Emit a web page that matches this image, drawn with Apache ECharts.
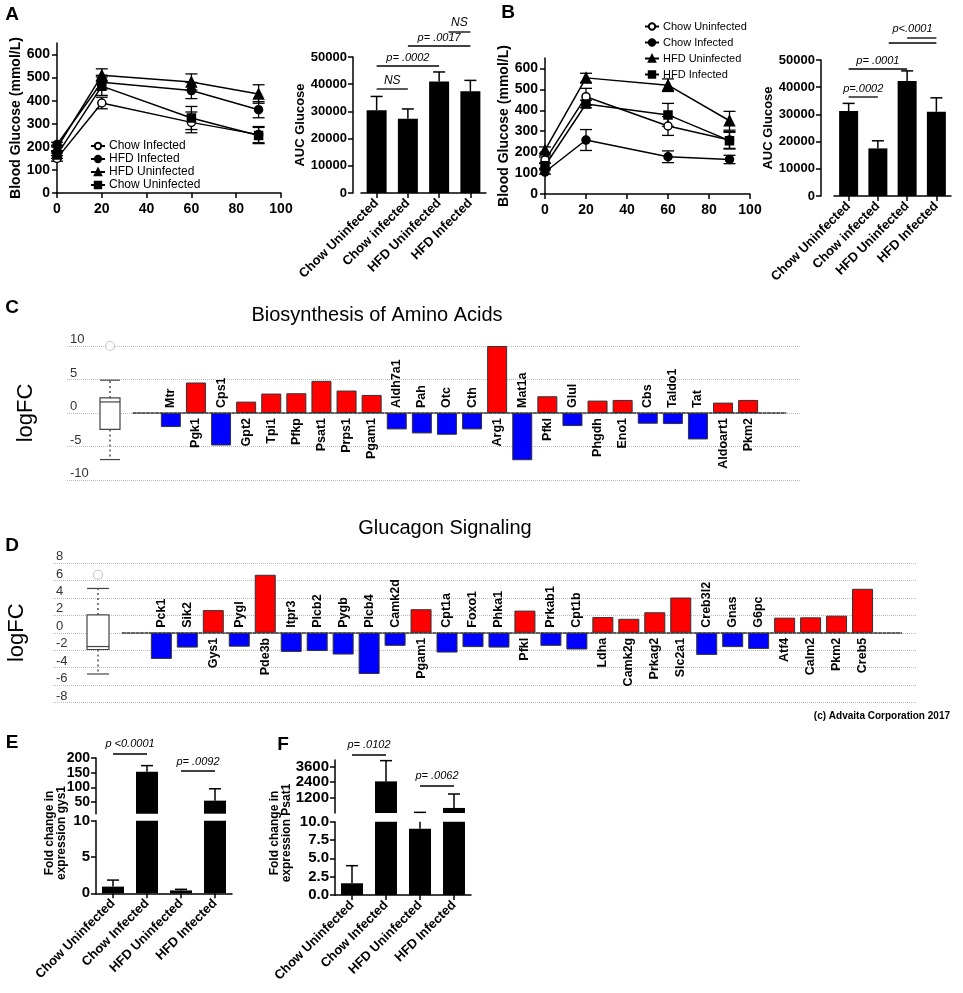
<!DOCTYPE html>
<html>
<head>
<meta charset="utf-8">
<script src="https://cdn.jsdelivr.net/npm/echarts@6/dist/echarts.min.js"></script>
<style>
html,body{margin:0;padding:0;background:#fff;}
#main{width:963px;height:993px;}
</style>
</head>
<body>
<div id="main"></div>
<script>
// ---------- data: panels A / B (glucose tolerance) ----------
const timePoints = [0, 20, 60, 90];
const glucoseTicks = [0, 100, 200, 300, 400, 500, 600];

const aChowInf = [150, 390, 306, 253];
const aChowInfErr = [12, 25, 45, 35];
const aHfdInf = [210, 480, 444, 361];
const aHfdInfErr = [10, 30, 35, 35];
const aHfdUninf = [195, 510, 481, 429];
const aHfdUninfErr = [12, 28, 35, 40];
const aChowUninf = [165, 463, 325, 249];
const aChowUninfErr = [15, 40, 50, 35];

const bChowUninf = [162, 465, 325, 258];
const bChowUninfErr = [15, 40, 45, 40];
const bChowInf = [105, 258, 178, 165];
const bChowInfErr = [10, 50, 28, 20];
const bHfdUninf = [210, 555, 520, 350];
const bHfdUninfErr = [15, 22, 30, 45];
const bHfdInf = [135, 430, 378, 255];
const bHfdInfErr = [12, 18, 55, 40];

const aucGroups = ['Chow Uninfected', 'Chow infected', 'HFD Uninfected', 'HFD Infected'];
const aucA = [30400, 27300, 41000, 37400];
const aucAErr = [5100, 3600, 3500, 4000];
const aucB = [31250, 17500, 42300, 31000];
const aucBErr = [2800, 2800, 3700, 5100];

// ---------- data: panel C ----------
const cGenes = ['Mtr','Pgk1','Cps1','Gpt2','Tpi1','Pfkp','Psat1','Prps1','Pgam1','Aldh7a1','Pah','Otc','Cth',
  'Arg1','Mat1a','Pfkl','Glul','Phgdh','Eno1','Cbs','Taldo1','Tat','Aldoart1','Pkm2'];
const cLogFC = [-2.1, 4.55, -4.85, 1.7, 2.9, 2.95, 4.8, 3.35, 2.7, -2.45, -3.05, -3.25, -2.45,
  10, -7.05, 2.5, -1.95, 1.85, 1.95, -1.6, -1.65, -3.95, 1.55, 1.95];
const cBox = [-6.95, -2.45, 1.65, 2.25, 4.9]; // min, q1, median, q3, max
const cOutlier = 10;

// ---------- data: panel D ----------
const dGenes = ['Pck1','Sik2','Gys1','Pygl','Pde3b','Itpr3','Plcb2','Pygb','Plcb4','Camk2d','Pgam1','Cpt1a','Foxo1',
  'Phka1','Pfkl','Prkab1','Cpt1b','Ldha','Camk2g','Prkag2','Slc2a1','Creb3l2','Gnas','G6pc','Atf4','Calm2','Pkm2','Creb5'];
const dLogFC = [-3.0, -1.7, 2.6, -1.6, 6.65, -2.2, -2.1, -2.5, -4.73, -1.5, 2.7, -2.27, -1.65,
  -1.7, 2.54, -1.5, -1.92, 1.8, 1.6, 2.35, 4.04, -2.54, -1.65, -1.85, 1.73, 1.77, 1.96, 5.04];
const dBox = [-4.73, -1.92, -1.58, 2.04, 5.08];
const dOutlier = 6.65;

// ---------- data: panels E / F ----------
const efGroups = ['Chow Uninfected', 'Chow Infected', 'HFD Uninfected', 'HFD Infected'];
const eFold = [0.92, 153, 0.4, 54.5];
const eErr = [0.9, 21, 0.15, 40.5];
const eUpperTicks = [50, 100, 150, 200];
const fFold = [1.6, 2450, 9.05, 400];
const fErr = [2.4, 1600, 51, 1075];
const fUpperTicks = [1200, 2400, 3600];

// ---------- styling helpers ----------
const FONT = '"Liberation Sans", Arial, Helvetica, sans-serif';
const RED = '#ff0000', BLUE = '#0000ff';
const plain = v => String(v);
const axisLineBlack = {show: true, onZero: false, lineStyle: {color: '#000', width: 1.5}};
const tickBlack = {show: true, length: 5, lineStyle: {color: '#000', width: 1.5}};
function boldLabel(size, extra) {
  return Object.assign({color: '#000', fontWeight: 'bold', fontSize: size, fontFamily: FONT}, extra || {});
}

function lineSeries(name, gi, vals, symbol, fill) {
  return {
    name: name, type: 'line', xAxisIndex: gi, yAxisIndex: gi,
    data: timePoints.map((t, i) => [t, vals[i]]),
    symbol: symbol, symbolSize: symbol === 'triangle' ? 10 : 8,
    lineStyle: {color: '#000', width: 1.5},
    itemStyle: {color: fill, borderColor: '#000', borderWidth: 1.5},
    z: 3, silent: true
  };
}
function lineErrSeries(gi, vals, errs) {
  return {
    type: 'custom', xAxisIndex: gi, yAxisIndex: gi, silent: true, z: 2,
    data: timePoints.map((t, i) => [t, vals[i], errs[i]]),
    encode: {x: 0, y: 1},
    renderItem: function (params, api) {
      const x = api.value(0), m = api.value(1), e = api.value(2);
      const lo = api.coord([x, m - e]), hi = api.coord([x, m + e]);
      const st = {stroke: '#000', lineWidth: 1.3};
      return {type: 'group', children: [
        {type: 'line', shape: {x1: lo[0], y1: lo[1], x2: hi[0], y2: hi[1]}, style: st},
        {type: 'line', shape: {x1: lo[0] - 6, y1: lo[1], x2: lo[0] + 6, y2: lo[1]}, style: st},
        {type: 'line', shape: {x1: hi[0] - 6, y1: hi[1], x2: hi[0] + 6, y2: hi[1]}, style: st}
      ]};
    }
  };
}
// upward error bars on bar charts, clamped to the axis segment [lo, hi]
function barErrSeries(gi, vals, errs, lo, hi) {
  return {
    type: 'custom', xAxisIndex: gi, yAxisIndex: gi, silent: true, z: 3,
    data: vals.map((v, i) => [i, v, errs[i]]),
    encode: {x: 0, y: 1},
    renderItem: function (params, api) {
      const x = api.value(0), m = api.value(1), top = m + api.value(2);
      const kids = [];
      if (top > lo && m < hi) {
        const p0 = api.coord([x, Math.max(m, lo)]), p1 = api.coord([x, Math.min(top, hi)]);
        const st = {stroke: '#000', lineWidth: 1.5};
        kids.push({type: 'line', shape: {x1: p0[0], y1: p0[1], x2: p1[0], y2: p1[1]}, style: st});
        if (top <= hi) kids.push({type: 'line', shape: {x1: p1[0] - 6, y1: p1[1], x2: p1[0] + 6, y2: p1[1]}, style: st});
      }
      return {type: 'group', children: kids};
    }
  };
}
function boxSeries(gi, box, w) {
  return {
    type: 'custom', xAxisIndex: gi, yAxisIndex: gi, silent: true,
    data: [[0].concat(box)],
    encode: {x: 0, y: [1, 2, 3, 4, 5]},
    renderItem: function (params, api) {
      const cx = api.coord([0, api.value(3)])[0];
      const y = k => api.coord([0, api.value(k)])[1];
      const yMin = y(1), yQ1 = y(2), yMed = y(3), yQ3 = y(4), yMax = y(5);
      const solid = {stroke: '#444', lineWidth: 1.2};
      const dot = {stroke: '#444', lineWidth: 1.4, lineDash: [2, 3]};
      return {type: 'group', children: [
        {type: 'line', shape: {x1: cx, y1: yQ3, x2: cx, y2: yMax}, style: dot},
        {type: 'line', shape: {x1: cx, y1: yQ1, x2: cx, y2: yMin}, style: dot},
        {type: 'line', shape: {x1: cx - w / 2, y1: yMax, x2: cx + w / 2, y2: yMax}, style: solid},
        {type: 'line', shape: {x1: cx - w / 2, y1: yMin, x2: cx + w / 2, y2: yMin}, style: solid},
        {type: 'rect', shape: {x: cx - w / 2, y: yQ3, width: w, height: yQ1 - yQ3}, style: {fill: '#fff', stroke: '#444', lineWidth: 1.2}},
        {type: 'line', shape: {x1: cx - w / 2, y1: yMed, x2: cx + w / 2, y2: yMed}, style: solid}
      ]};
    }
  };
}
function geneBars(gi, vals, w) {
  const data = ['-'].concat(vals.map(v => ({
    value: v,
    itemStyle: {color: v > 0 ? RED : BLUE},
    label: v > 0
      ? {position: 'bottom', align: 'right'}
      : {position: 'top', align: 'left'}
  }))).concat(['-']);
  return {
    type: 'bar', xAxisIndex: gi, yAxisIndex: gi, data: data, barWidth: w, silent: true,
    itemStyle: {borderColor: '#333', borderWidth: 1},
    label: {show: true, formatter: '{b}', rotate: 90, distance: 5, verticalAlign: 'middle',
      fontSize: 12.5, fontWeight: 'bold', color: '#000', fontFamily: FONT}
  };
}

// ---------- layout ----------
const grids = [
  {left: 57, top: 43, width: 224, height: 150},      // 0 A line
  {left: 361, top: 57, width: 125, height: 136},     // 1 A AUC
  {left: 545, top: 58, width: 205, height: 136},     // 2 B line
  {left: 834, top: 60, width: 117, height: 136},     // 3 B AUC
  {left: 67, top: 346, width: 733, height: 134},     // 4 C gridlines
  {left: 90, top: 346, width: 40, height: 134},      // 5 C box
  {left: 133.2, top: 346, width: 652.6, height: 134},// 6 C bars
  {left: 53, top: 563, width: 864, height: 139.5},   // 7 D gridlines
  {left: 78, top: 563, width: 40, height: 139.5},    // 8 D box
  {left: 122.4, top: 563, width: 779.1, height: 139.5}, // 9 D bars
  {left: 96, top: 820.7, width: 136, height: 72.6},  // 10 E lower
  {left: 96, top: 758, width: 136, height: 55.7},    // 11 E upper
  {left: 335, top: 821.7, width: 136, height: 73.3}, // 12 F lower
  {left: 335, top: 760, width: 136, height: 53}      // 13 F upper
].map(g => Object.assign({containLabel: false, outerBoundsMode: 'none'}, g));

function timeX(gi) {
  return {gridIndex: gi, type: 'value', min: 0, max: 100, interval: 20, axisLine: axisLineBlack, axisTick: tickBlack,
    axisLabel: boldLabel(14, {margin: 9}), splitLine: {show: false}};
}
function glucoseY(gi, gap) {
  return {gridIndex: gi, type: 'value', min: 0, max: 650, axisLine: axisLineBlack,
    axisTick: Object.assign({customValues: glucoseTicks}, tickBlack),
    axisLabel: boldLabel(14, {customValues: glucoseTicks, margin: 7}), splitLine: {show: false},
    name: 'Blood Glucose (mmol/L)', nameLocation: 'middle', nameGap: gap,
    nameTextStyle: boldLabel(14)};
}
function groupX(gi, cats) {
  return {gridIndex: gi, type: 'category', data: cats, axisLine: axisLineBlack,
    axisTick: Object.assign({alignWithLabel: true}, tickBlack),
    axisLabel: boldLabel(13, {rotate: 45, interval: 0, margin: 8})};
}
function aucY(gi, off, gap) {
  return {gridIndex: gi, type: 'value', min: 0, max: 50000, interval: 10000, offset: off,
    axisLine: axisLineBlack, axisTick: tickBlack, axisLabel: boldLabel(13, {margin: 6, formatter: plain}),
    splitLine: {show: false},
    name: 'AUC Glucose', nameLocation: 'middle', nameGap: gap, nameTextStyle: boldLabel(13)};
}
function logGridY(gi, min, max, step, gap) {
  return {gridIndex: gi, type: 'value', min: min, max: max, interval: step,
    axisLine: {show: false}, axisTick: {show: false},
    axisLabel: {inside: true, align: 'left', verticalAlign: 'bottom', margin: 3, fontSize: 13, color: '#333', fontFamily: FONT},
    splitLine: {show: true, lineStyle: {color: '#bbb', type: 'dotted', width: 1}},
    name: 'logFC', nameLocation: 'middle', nameGap: gap, nameTextStyle: {fontSize: 22, color: '#000', fontFamily: FONT}};
}
function hiddenY(gi, min, max) { return {gridIndex: gi, type: 'value', min: min, max: max, show: false}; }
function geneX(gi, genes) {
  return {gridIndex: gi, type: 'category', data: [' '].concat(genes).concat(['  ']),
    axisLine: {show: true, onZero: true, lineStyle: {color: '#333', width: 1.5, type: [3, 1.5]}},
    axisTick: {show: false}, axisLabel: {show: false}};
}
function segY(gi, min, max, extra) {
  return Object.assign({gridIndex: gi, type: 'value', min: min, max: max, axisLine: axisLineBlack,
    axisTick: tickBlack, axisLabel: boldLabel(15, {margin: 6}), splitLine: {show: false}}, extra);
}
function customTicks(vals, size) {
  return {axisTick: Object.assign({customValues: vals}, tickBlack),
    axisLabel: boldLabel(size, {customValues: vals, margin: 6, formatter: plain, hideOverlap: false,
      lineHeight: size - 1, showMinLabel: true, showMaxLabel: true})};
}

const xAxes = [
  timeX(0), groupX(1, aucGroups), timeX(2), groupX(3, aucGroups),
  {gridIndex: 4, type: 'value', min: 0, max: 1, show: false},
  {gridIndex: 5, type: 'category', data: ['box'], show: false},
  geneX(6, cGenes),
  {gridIndex: 7, type: 'value', min: 0, max: 1, show: false},
  {gridIndex: 8, type: 'category', data: ['box'], show: false},
  geneX(9, dGenes),
  groupX(10, efGroups),
  {gridIndex: 11, type: 'category', data: efGroups, show: false},
  groupX(12, efGroups),
  {gridIndex: 13, type: 'category', data: efGroups, show: false}
];
const yAxes = [
  glucoseY(0, 33), aucY(1, 8, 41), glucoseY(2, 28), aucY(3, 13, 37),
  logGridY(4, -10, 10, 5, 30), hiddenY(5, -10, 10), hiddenY(6, -10, 10),
  logGridY(7, -8, 8, 2, 25), hiddenY(8, -8, 8), hiddenY(9, -8, 8),
  segY(10, 0, 10, {interval: 5}),
  segY(11, 10, 200, customTicks(eUpperTicks, 14)),
  segY(12, 0, 10, {interval: 2.5, axisLabel: boldLabel(15, {margin: 6, formatter: v => v.toFixed(1)})}),
  segY(13, 10, 4100, customTicks(fUpperTicks, 15))
];

const series = [
  // A
  lineErrSeries(0, aChowInf, aChowInfErr), lineErrSeries(0, aHfdInf, aHfdInfErr),
  lineErrSeries(0, aHfdUninf, aHfdUninfErr), lineErrSeries(0, aChowUninf, aChowUninfErr),
  lineSeries('A|Chow Infected', 0, aChowInf, 'circle', '#fff'),
  lineSeries('A|HFD Infected', 0, aHfdInf, 'circle', '#000'),
  lineSeries('A|HFD Uninfected', 0, aHfdUninf, 'triangle', '#000'),
  lineSeries('A|Chow Uninfected', 0, aChowUninf, 'rect', '#000'),
  {type: 'bar', xAxisIndex: 1, yAxisIndex: 1, data: aucA, barWidth: 20, itemStyle: {color: '#000'}, silent: true},
  barErrSeries(1, aucA, aucAErr, 0, 50000),
  // B
  lineErrSeries(2, bChowUninf, bChowUninfErr), lineErrSeries(2, bChowInf, bChowInfErr),
  lineErrSeries(2, bHfdUninf, bHfdUninfErr), lineErrSeries(2, bHfdInf, bHfdInfErr),
  lineSeries('B|Chow Uninfected', 2, bChowUninf, 'circle', '#fff'),
  lineSeries('B|Chow Infected', 2, bChowInf, 'circle', '#000'),
  lineSeries('B|HFD Uninfected', 2, bHfdUninf, 'triangle', '#000'),
  lineSeries('B|HFD Infected', 2, bHfdInf, 'rect', '#000'),
  {type: 'bar', xAxisIndex: 3, yAxisIndex: 3, data: aucB, barWidth: 19, itemStyle: {color: '#000'}, silent: true},
  barErrSeries(3, aucB, aucBErr, 0, 50000),
  // C
  boxSeries(5, cBox, 20),
  {type: 'scatter', xAxisIndex: 5, yAxisIndex: 5, data: [[0, cOutlier]], symbol: 'circle', symbolSize: 9,
    itemStyle: {color: '#fff', borderColor: '#bbb', borderWidth: 1.2}, silent: true},
  geneBars(6, cLogFC, 20),
  // D
  boxSeries(8, dBox, 22),
  {type: 'scatter', xAxisIndex: 8, yAxisIndex: 8, data: [[0, dOutlier]], symbol: 'circle', symbolSize: 9,
    itemStyle: {color: '#fff', borderColor: '#bbb', borderWidth: 1.2}, silent: true},
  geneBars(9, dLogFC, 21),
  // E
  {type: 'bar', xAxisIndex: 10, yAxisIndex: 10, data: eFold, barWidth: 22, itemStyle: {color: '#000'}, clip: true, silent: true},
  {type: 'bar', xAxisIndex: 11, yAxisIndex: 11, data: eFold, barWidth: 22, itemStyle: {color: '#000'}, clip: true, silent: true},
  barErrSeries(10, eFold, eErr, 0, 10), barErrSeries(11, eFold, eErr, 10, 200),
  // F
  {type: 'bar', xAxisIndex: 12, yAxisIndex: 12, data: fFold, barWidth: 22, itemStyle: {color: '#000'}, clip: true, silent: true},
  {type: 'bar', xAxisIndex: 13, yAxisIndex: 13, data: fFold, barWidth: 22, itemStyle: {color: '#000'}, clip: true, silent: true},
  barErrSeries(12, fFold, fErr, 0, 10), barErrSeries(13, fFold, fErr, 10, 4100)
];

function legendCfg(left, top, names, size, gap) {
  return {left: left, top: top, orient: 'vertical', itemWidth: 14, itemHeight: 8, itemGap: gap,
    selectedMode: false, data: names, formatter: n => n.split('|')[1],
    textStyle: {fontSize: size, lineHeight: size, color: '#000', fontFamily: FONT, padding: [0, 0, 0, -1]}};
}

function txt(text, x, y, font, extra) {
  return Object.assign({type: 'text', x: x, y: y, silent: true,
    style: {text: text, font: font, fill: '#000', textAlign: 'center', textVerticalAlign: 'middle',
      align: 'center', verticalAlign: 'middle'}}, extra || {});
}
const FB = sz => 'bold ' + sz + 'px ' + FONT;
const staticGraphics = [
  txt('A', 12, 15, FB(19)), txt('B', 508, 13, FB(19)), txt('C', 12, 308, FB(19)),
  txt('D', 12, 546, FB(19)), txt('E', 12, 743, FB(19)), txt('F', 283, 745, FB(19)),
  txt('Biosynthesis of Amino Acids', 377, 315, '20px ' + FONT),
  txt('Glucagon Signaling', 445, 528, '20px ' + FONT),
  txt('(c) Advaita Corporation 2017', 950, 716, FB(10), {style: {text: '(c) Advaita Corporation 2017', font: FB(10),
    fill: '#000', textAlign: 'right', textVerticalAlign: 'middle', align: 'right', verticalAlign: 'middle'}}),
  txt('Fold change in\nexpression gys1', 56, 833, FB(12), {rotation: Math.PI / 2}),
  txt('Fold change in\nexpression Psat1', 281, 833, FB(12), {rotation: Math.PI / 2})
];

const chart = echarts.init(document.getElementById('main'));
chart.setOption({
  animation: false,
  backgroundColor: '#fff',
  textStyle: {fontFamily: FONT},
  grid: grids,
  legend: [
    legendCfg(85, 135, ['A|Chow Infected', 'A|HFD Infected', 'A|HFD Uninfected', 'A|Chow Uninfected'], 12, 1),
    legendCfg(639, 16, ['B|Chow Uninfected', 'B|Chow Infected', 'B|HFD Uninfected', 'B|HFD Infected'], 11, 5)
  ],
  xAxis: xAxes,
  yAxis: yAxes,
  series: series,
  graphic: staticGraphics
});

// ---------- significance brackets (x from the category axes) ----------
function catX(axisIdx, pos) {
  const i0 = Math.floor(pos), f = pos - i0;
  const p0 = chart.convertToPixel({xAxisIndex: axisIdx}, i0);
  if (f === 0) return p0;
  const p1 = chart.convertToPixel({xAxisIndex: axisIdx}, i0 + 1);
  return p0 + (p1 - p0) * f;
}
const sigMarks = [
  {axis: 1, text: 'NS', from: 0, to: 1, ly: 89, ty: 81},
  {axis: 1, text: 'p= .0002', from: 0, to: 2, ly: 66, ty: 58},
  {axis: 1, text: 'p= .0017', from: 1, to: 3, ly: 46, ty: 38},
  {axis: 1, text: 'NS', from: 2.3, to: 3, ly: 32, ty: 23},
  {axis: 3, text: 'p=.0002', from: 0, to: 1, ly: 97, ty: 89},
  {axis: 3, text: 'p= .0001', from: 0, to: 2, ly: 69, ty: 61},
  {axis: 3, text: 'p<.0001', from: 1.37, to: 3, ly: 43, ty: 29},
  {axis: 3, text: '', from: 2, to: 3, ly: 38, ty: 0},
  {axis: 10, text: 'p <0.0001', from: 0, to: 1, ly: 754, ty: 744},
  {axis: 10, text: 'p= .0092', from: 2, to: 3, ly: 771, ty: 762},
  {axis: 12, text: 'p= .0102', from: 0, to: 1, ly: 755, ty: 745},
  {axis: 12, text: 'p= .0062', from: 2, to: 3, ly: 786, ty: 776}
];
const sigGraphics = [];
sigMarks.forEach(s => {
  const x1 = catX(s.axis, s.from), x2 = catX(s.axis, s.to);
  sigGraphics.push({type: 'line', silent: true, shape: {x1: x1, y1: s.ly, x2: x2, y2: s.ly},
    style: {stroke: '#000', lineWidth: 1.3}});
  if (s.text) sigGraphics.push(txt(s.text, (x1 + x2) / 2, s.ty, 'italic ' + (s.text === 'NS' ? 12 : 11) + 'px ' + FONT));
});
chart.setOption({graphic: staticGraphics.concat(sigGraphics)});
</script>
</body>
</html>
